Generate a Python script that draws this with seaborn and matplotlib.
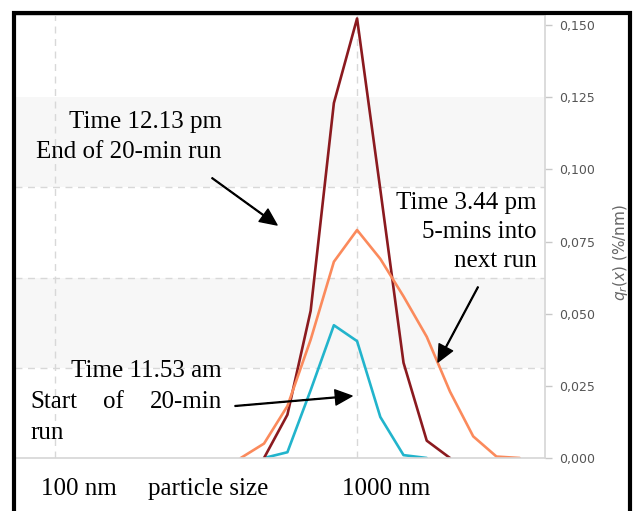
import matplotlib
matplotlib.use("Agg")
import matplotlib.pyplot as plt
import numpy as np
import pandas as pd
import seaborn as sns
from matplotlib.patches import Rectangle
from matplotlib.ticker import NullLocator

# particle size bins (nm)
sizes = [412, 492, 588, 702, 838, 1000, 1194, 1425, 1701, 2031, 2424, 2894, 3455]

# q_r(x) in %/nm per run, nan where that curve is not drawn
q_start = [np.nan, 0.0, 0.002, 0.0235, 0.046, 0.0405, 0.0142, 0.001, 0.0,
           np.nan, np.nan, np.nan, np.nan]
q_end = [np.nan, 0.0, 0.015, 0.051, 0.123, 0.1523, 0.093, 0.033, 0.006, 0.0,
         np.nan, np.nan, np.nan]
q_next = [0.0, 0.005, 0.018, 0.041, 0.068, 0.079, 0.069, 0.056, 0.042, 0.023,
          0.0075, 0.0005, 0.0]

runs = ["11.53 am", "12.13 pm", "3.44 pm"]
run_colors = ["#22b4cc", "#8b1a1f", "#fb8a5c"]

y_ticks = [0.0, 0.025, 0.05, 0.075, 0.1, 0.125, 0.15]
grid_y = [0.03125, 0.0625, 0.09375, 0.125]
grid_x = [100, 1000]

SERIF = ["Liberation Serif", "DejaVu Serif"]
W, H = 636, 511


def fx(px):
    return px / W


def fy(py):
    # image y (from top) -> figure fraction
    return 1 - py / H


def note(x, y, s, **kw):
    kw.setdefault("va", "center")
    fig.text(fx(x), fy(y), s, fontsize=18, family=SERIF, color="black",
             linespacing=1.42, **kw)


sns.set_style("white")
plt.rcParams["font.family"] = ["DejaVu Sans"]

df = pd.DataFrame({
    "size": sizes * 3,
    "q": q_start + q_end + q_next,
    "run": [r for r in runs for _ in sizes],
}).dropna()

fig = plt.figure(figsize=(W / 100, H / 100), dpi=100)
ax = fig.add_axes([fx(15), 53 / H, 530 / W, 443 / H])

# alternating light bands between the dashed grid rows
ax.axhspan(grid_y[0], grid_y[1], color="#f7f7f7", zorder=0, lw=0)
ax.axhspan(grid_y[2], grid_y[3], color="#f7f7f7", zorder=0, lw=0)

sns.lineplot(data=df, x="size", y="q", hue="run", hue_order=runs,
             palette=run_colors, estimator=None, lw=1.9, legend=False, ax=ax)

ax.set_xscale("log")
ax.set_xlim(73.7, 4190)
ax.set_ylim(0, 0.1535)
ax.xaxis.set_minor_locator(NullLocator())
ax.set_xticks(grid_x)
ax.set_xticklabels([])
ax.tick_params(axis="x", length=0)
ax.grid(axis="x", which="major", ls=(0, (5, 4)), color="#d8d8d8", lw=1)

ax.yaxis.tick_right()
ax.set_yticks(y_ticks)
ax.set_yticklabels([f"{v:.3f}".replace(".", ",") for v in y_ticks])
ax.set_yticks(grid_y, minor=True)
ax.tick_params(axis="y", which="major", length=5, width=1, color="#c8c8c8",
               labelcolor="#555555", labelsize=9, pad=5)
ax.tick_params(axis="y", which="minor", length=0)
ax.grid(axis="y", which="minor", ls=(0, (5, 4)), color="#d8d8d8", lw=1)
ax.grid(axis="y", which="major", visible=False)
ax.set_xlabel("")
ax.set_ylabel("")
for s in ax.spines.values():
    s.set_color("#d6d6d6")
    s.set_linewidth(1.2)

fig.text(fx(621), fy(253), r"$q_r(x)$ (%/nm)", rotation=90, ha="center",
         va="center", color="#666666", fontsize=11)

# x axis labels written under the plot
note(79, 489, "100 nm", ha="center")
note(208, 489, "particle size", ha="center")
note(386, 489, "1000 nm", ha="center")

# annotations
note(222, 137, "Time 12.13 pm\nEnd of 20-min run", ha="right", multialignment="right")
note(537, 232, "Time 3.44 pm\n5-mins into\nnext run", ha="right", multialignment="right")
note(222, 371, "Time 11.53 am", ha="right")
note(30, 402, "Start", ha="left")
note(113, 402, "of", ha="center")
note(222, 402, "20-min", ha="right")
note(30, 433, "run", ha="left")

arrow = dict(facecolor="black", edgecolor="black", width=0.6, headwidth=11,
             headlength=12, shrink=0)
for (x0, y0), (x1, y1) in [((212, 178), (277, 225)),
                           ((478, 287), (438, 362)),
                           ((235, 406), (352, 396))]:
    ax.annotate("", xy=(x1, H - y1), xycoords="figure pixels",
                xytext=(x0, H - y0), textcoords="figure pixels",
                arrowprops=arrow)

# black frame around the whole picture (open at the bottom edge)
fig.patches.append(Rectangle((fx(14), -0.05), fx(630) - fx(14), fy(13) + 0.05,
                             transform=fig.transFigure, fill=False,
                             ec="black", lw=3, clip_on=False))

fig.savefig("out.png", dpi=100)
